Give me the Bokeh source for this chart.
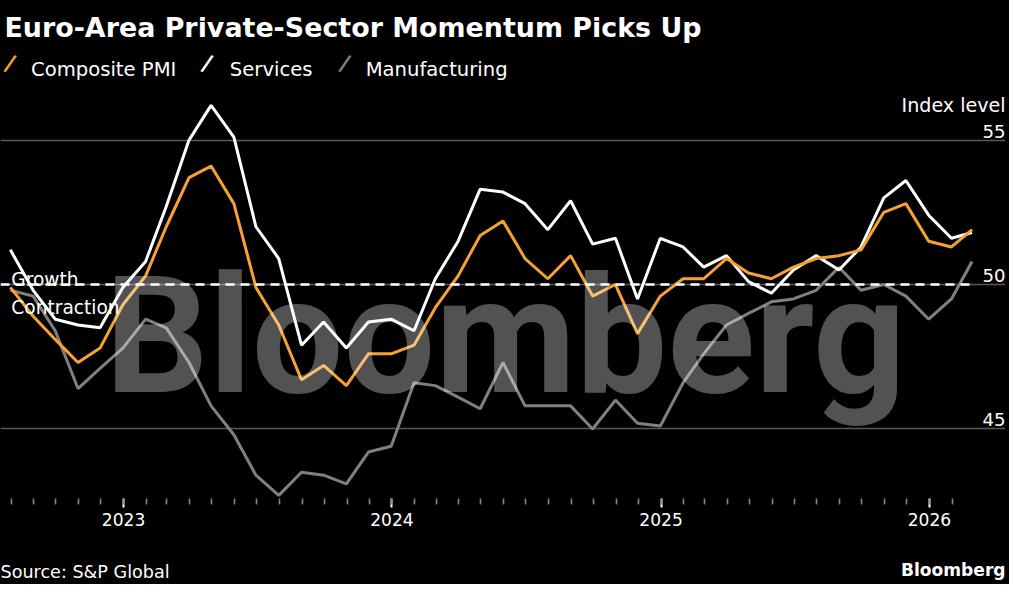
import pandas as pd
from bokeh.plotting import figure
from bokeh.layouts import column
from bokeh.models import Range1d, FixedTicker, DatetimeTickFormatter, Label, ColumnDataSource
from bokeh.embed import file_html
from bokeh.resources import INLINE
from bokeh.core.properties import value

# ---------------- data ----------------
TITLE = "Euro-Area Private-Sector Momentum Picks Up"
SOURCE = "Source: S&P Global"
UNIT = "Index level"
BRAND = "Bloomberg"

first_month = "2022-07"
last_month = "2026-02"

composite = [49.9, 48.9, 48.1, 47.3, 47.8, 49.3,
             50.3, 52.0, 53.7, 54.1, 52.8, 49.9, 48.6, 46.7, 47.2, 46.5, 47.6, 47.6,
             47.9, 49.2, 50.3, 51.7, 52.2, 50.9, 50.2, 51.0, 49.6, 50.0, 48.3, 49.6,
             50.2, 50.2, 50.9, 50.4, 50.2, 50.6, 50.9, 51.0, 51.2, 52.5, 52.8, 51.5,
             51.3, 51.9]
services = [51.2, 49.8, 48.8, 48.6, 48.5, 49.9,
            50.8, 52.7, 55.0, 56.2, 55.1, 52.0, 50.9, 47.9, 48.7, 47.8, 48.7, 48.8,
            48.4, 50.2, 51.5, 53.3, 53.2, 52.8, 51.9, 52.9, 51.4, 51.6, 49.5, 51.6,
            51.3, 50.6, 51.0, 50.1, 49.7, 50.5, 51.0, 50.5, 51.3, 53.0, 53.6, 52.4,
            51.6, 51.8]
manufacturing = [49.8, 49.6, 48.4, 46.4, 47.1, 47.8,
                 48.8, 48.5, 47.3, 45.8, 44.8, 43.4, 42.7, 43.5, 43.4, 43.1, 44.2, 44.4,
                 46.6, 46.5, 46.1, 45.7, 47.3, 45.8, 45.8, 45.8, 45.0, 46.0, 45.2, 45.1,
                 46.6, 47.6, 48.6, 49.0, 49.4, 49.5, 49.8, 50.6, 49.8, 50.0, 49.6, 48.8,
                 49.5, 50.8]

series_names = ["Composite PMI", "Services", "Manufacturing"]
series_colors = ["#f6a233", "#ffffff", "#808080"]

y_ticks = [45, 50, 55]
year_ticks = ["2023-01-01", "2024-01-01", "2025-01-01", "2026-01-01"]
threshold = 50
threshold_labels = ["Growth", "Contraction"]

FONT = "DejaVu Sans"

# ---------------- layout (reference is 1025x600, page fits 1009x584) ----------------
REF_W, REF_H = 1025, 600
W, H = 1009, 584
kx, ky = W / REF_W, H / REF_H
kf = (kx + ky) / 2


def X(v):
    return v * kx


def Y(v):
    return v * ky


def fs(v):
    return f"{v * kf:.1f}px"


def ms(t):
    return pd.Timestamp(t).value / 1e6


months = pd.period_range(first_month, last_month, freq="M")
dates = months.to_timestamp(how="end").normalize()

src = ColumnDataSource(dict(date=dates, comp=composite, serv=services, manu=manufacturing))

x_start = ms("2022-07-17 14:00")
x_end = ms("2026-04-14 12:00")

MAIN_H = 552
FRAME_BOTTOM = round(Y(512))
FRAME_RIGHT = round(X(1021))

p = figure(width=W, height=MAIN_H, x_axis_type="datetime", y_axis_location=None,
           x_range=Range1d(x_start, x_end), y_range=Range1d(42.593, 59.832),
           min_border_left=0, min_border_right=W - FRAME_RIGHT, min_border_top=0,
           min_border_bottom=MAIN_H - FRAME_BOTTOM,
           output_backend="svg", toolbar_location=None)

p.background_fill_color = "black"
p.border_fill_color = "black"
p.outline_line_color = None
p.xgrid.visible = False
p.ygrid.ticker = FixedTicker(ticks=y_ticks)
p.ygrid.grid_line_color = "#5a5a5a"
p.ygrid.grid_line_width = 1.3

# x axis
ax = p.xaxis[0]
ax.ticker = FixedTicker(ticks=[ms(t) for t in year_ticks],
                        minor_ticks=[ms(t) for t in pd.date_range("2022-08-01", "2026-02-01", freq="MS")])
ax.formatter = DatetimeTickFormatter(years="%Y", months="%Y", days="%Y", hours="%Y",
                                     minutes="%Y", seconds="%Y", milliseconds="%Y")
ax.axis_line_color = None
ax.major_tick_line_color = "white"
ax.major_tick_line_width = 2
ax.major_tick_in = 0
ax.major_tick_out = 9
ax.minor_tick_line_color = "#8a8a8a"
ax.minor_tick_line_width = 1.5
ax.minor_tick_in = 0
ax.minor_tick_out = 6
ax.major_label_text_color = "white"
ax.major_label_text_font = FONT
ax.major_label_text_font_size = fs(17.5)
ax.major_label_standoff = 5

# data lines
p.line("date", "manu", source=src, color=series_colors[2], line_width=3)
p.line("date", "serv", source=src, color=series_colors[1], line_width=3)
p.line("date", "comp", source=src, color=series_colors[0], line_width=3)

# threshold line
p.segment(x0=x_start, y0=threshold, x1=ms(dates[-1]), y1=threshold,
          line_color="white", line_width=2.5, line_dash="9 6")

# y tick labels (inside, above gridlines, right aligned)
p.text(x=[x_end] * len(y_ticks), y=y_ticks, text=[str(t) for t in y_ticks],
       text_align="right", text_baseline="alphabetic", y_offset=-9,
       text_color="white", text_font=value(FONT), text_font_size=fs(18.5))


def lab(fig, bottom, text, x, y_canvas, **kw):
    opts = dict(x=X(x), y=bottom - Y(y_canvas), x_units="screen", y_units="screen",
                text=text, text_color="white", text_font=FONT, text_font_size=fs(20),
                text_baseline="alphabetic", text_align="left")
    opts.update(kw)
    l = Label(**opts)
    fig.add_layout(l)
    return l


# watermark (on top, translucent)
lab(p, FRAME_BOTTOM, BRAND, 513, 345, text_align="center", text_font="Roboto",
    text_font_style="bold", text_font_size=fs(166), text_alpha=0.32)

# Growth / Contraction
lab(p, FRAME_BOTTOM, threshold_labels[0], 11, 287, text_font_size=fs(19))
lab(p, FRAME_BOTTOM, threshold_labels[1], 11, 315, text_font_size=fs(19))

# title
lab(p, FRAME_BOTTOM, TITLE, 4, 28, text_font_style="bold", text_font_size=fs(27.5))

# legend
leg_x = [[10, 31], [210, 233], [350, 371]]
for name, color, (sx, tx) in zip(series_names, series_colors, leg_x):
    lab(p, FRAME_BOTTOM, "/", sx, 64, text_color=color, text_align="center",
        text_baseline="middle", text_font_style="bold", text_font_size=fs(23), angle=-0.3)
    lab(p, FRAME_BOTTOM, name, tx, 71, text_font_size=fs(20))

# unit label
lab(p, FRAME_BOTTOM, UNIT, 1021, 108, text_align="right", text_font_size=fs(19.5))

# ---------------- footer strip ----------------
foot = figure(width=W, height=H - MAIN_H, x_range=Range1d(0, 1), y_range=Range1d(0, 1),
              x_axis_location=None, y_axis_location=None,
              min_border_left=0, min_border_right=0, min_border_top=0, min_border_bottom=0,
              output_backend="svg", toolbar_location=None)
foot.background_fill_color = "black"
foot.border_fill_color = "black"
foot.outline_line_color = None
foot.grid.visible = False

lab(foot, H, SOURCE, 0, 587, text_font_size=fs(18))
lab(foot, H, BRAND, 1021, 585, text_align="right", text_font_style="bold",
    text_font_size=fs(17.5))

layout = column(p, foot, spacing=0, styles={"background-color": "black"})
open("out.html", "w").write(file_html(layout, INLINE))
